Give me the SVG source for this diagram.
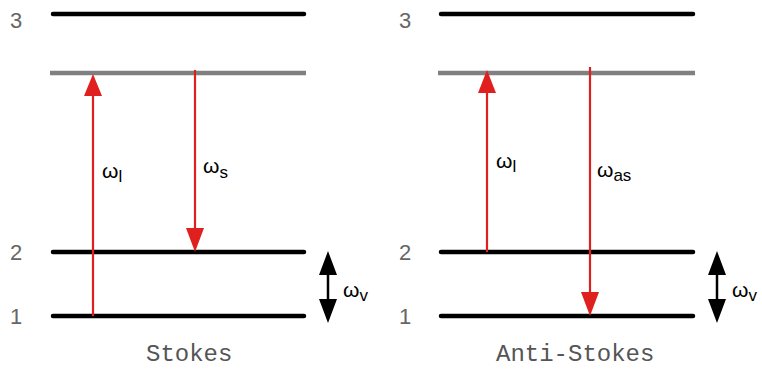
<svg xmlns="http://www.w3.org/2000/svg" width="762" height="369" viewBox="0 0 762 369">
<defs>
<style>
.lvl{stroke:#000;stroke-width:4.5;stroke-linecap:round;fill:none}
.virt{stroke:#808080;stroke-width:4.5;fill:none}
.red{stroke:#e0201e;stroke-width:2.2;fill:none}
.rh{fill:#e0201e}
.bk{stroke:#000;stroke-width:2.5;fill:none}
.bh{fill:#000}
.num{font-family:"Liberation Sans",Arial,sans-serif;font-size:22px;fill:#666}
.om{font-family:"Liberation Sans",Arial,sans-serif;font-size:21px;fill:#000}
.sub{font-size:17px}
.cap{font-family:"Liberation Mono","Courier New",monospace;font-size:24px;fill:#555}
</style>
</defs>
<g id="stokes">
<g id="stokes-levels">
<line class="lvl" x1="53" y1="14" x2="304" y2="14"/>
<line class="virt" x1="50" y1="73" x2="306" y2="73"/>
<line class="lvl" x1="53" y1="252" x2="304" y2="252"/>
<line class="lvl" x1="53" y1="316" x2="304" y2="316"/>
<text class="num" x="10" y="28">3</text>
<text class="num" x="10" y="260">2</text>
<text class="num" x="10" y="324">1</text>
</g>
<g id="stokes-connectors">
<line class="red" x1="93" y1="316" x2="93" y2="92"/>
<polygon class="rh" points="84,96 102,96 93,74"/>
<line class="red" x1="195" y1="70" x2="195" y2="232"/>
<polygon class="rh" points="186,228 204,228 195,252"/>
<line class="bk" x1="328" y1="270" x2="328" y2="305"/>
<polygon class="bh" points="319,275 337,275 328,251"/>
<polygon class="bh" points="319,299 337,299 328,323"/>
</g>
<text class="om" x="102" y="178">ω<tspan class="sub" dy="4">l</tspan></text>
<text class="om" x="203" y="173">ω<tspan class="sub" dy="5">s</tspan></text>
<text class="om" x="343" y="297">ω<tspan class="sub" dy="4">v</tspan></text>
<text class="cap" x="146" y="361">Stokes</text>
</g>
<g id="antistokes">
<g id="as-levels">
<line class="lvl" x1="441" y1="14" x2="693" y2="14"/>
<line class="virt" x1="438" y1="73" x2="695" y2="73"/>
<line class="lvl" x1="441" y1="252" x2="693" y2="252"/>
<line class="lvl" x1="441" y1="316" x2="693" y2="316"/>
<text class="num" x="399" y="28">3</text>
<text class="num" x="399" y="260">2</text>
<text class="num" x="399" y="324">1</text>
</g>
<g id="as-connectors">
<line class="red" x1="487" y1="252" x2="487" y2="90"/>
<polygon class="rh" points="478,93 496,93 487,70"/>
<line class="red" x1="590" y1="67" x2="590" y2="296"/>
<polygon class="rh" points="581,292 599,292 590,316"/>
<line class="bk" x1="717" y1="270" x2="717" y2="305"/>
<polygon class="bh" points="708,275 726,275 717,251"/>
<polygon class="bh" points="708,299 726,299 717,323"/>
</g>
<text class="om" x="496" y="168">ω<tspan class="sub" dy="4">l</tspan></text>
<text class="om" x="597" y="177">ω<tspan class="sub" dy="4">as</tspan></text>
<text class="om" x="732" y="297">ω<tspan class="sub" dy="4">v</tspan></text>
<text class="cap" x="496" y="361">Anti-Stokes</text>
</g>
</svg>
